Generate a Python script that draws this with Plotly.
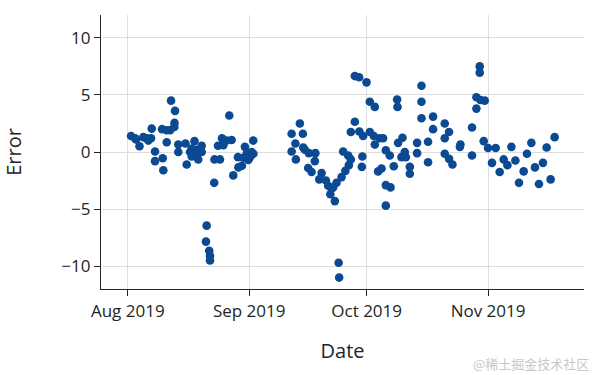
import pandas as pd
import plotly.graph_objects as go

start_date = "2019-08-01"

# day offset from start_date (fractional days) and error values
day_offset = [
    0.84, 1.86, 2.12, 3.0, 3.98, 4.85, 5.26, 6.12, 5.94, 6.96, 6.96, 8.93, 9.08, 8.75,
    9.95, 9.95, 10.8, 11.05, 12.07, 11.94, 11.89, 12.9, 12.9, 14.74, 15.05, 15.9, 16.33,
    17.04, 17.6, 18.0, 18.88, 18.88, 20.15, 19.97, 20.8, 21.0, 21.0, 22.07, 22.14, 23.55,
    23.04, 24.06, 24.39, 25.26, 25.92, 26.53, 26.94, 28.14, 28.26, 29.16, 29.49, 29.92,
    30.43, 30.77, 31.2, 31.63, 32.04, 32.09, 16.33, 17.7,
    41.84, 43.95, 44.72, 42.81, 41.84, 42.93, 44.8, 45.23, 46.25, 47.9, 47.77, 46.07,
    46.94, 49.5, 48.9, 50.6, 51.17, 52.04, 51.73, 52.45, 52.88, 53.32, 54.59, 55.56,
    56.45, 56.96, 56.28, 55.0, 53.85, 53.98, 57.98, 56.96, 59.13, 60.1, 59.9, 59.77,
    57.98, 59.08, 60.97, 61.81, 63.09, 61.81, 62.83, 63.09, 64.36, 65.2, 63.93, 64.8,
    65.89, 66.91, 65.89, 67.09, 65.89, 67.93, 68.78, 68.88, 69.03, 70.15, 69.9, 70.74,
    71.0, 72.02, 72.02, 73.88, 73.88, 75.0, 75.0, 75.0, 76.68, 76.68, 77.96, 77.96,
    80.94, 82.04, 80.94, 80.94, 82.04, 82.91, 84.95, 84.8, 87.9, 87.9, 89.87, 89.87,
    89.03, 90.05, 91.15, 89.03, 90.89, 91.99, 93.95, 93.01, 94.97, 95.99, 96.94, 97.96,
    98.98, 99.9, 101.1, 101.94, 103.06, 103.98, 105.0, 106.02, 106.96, 107.98, 109.0,
]

error = [
    1.4, 1.2, 1.1, 0.5, 1.3, 1.2, 1.0, 2.05, 1.2, 0.05, -0.8, -0.55, -1.6, 2.0,
    0.85, 1.9, 1.9, 4.5, 3.6, 2.55, 2.2, 0.65, 0.0, 0.75, -1.1, 0.0, -0.4,
    0.95, -0.35, -0.65, 0.55, 0.0, -6.45, -7.85, -8.65, -9.1, -9.5, -2.7, -0.65, -0.65,
    0.55, 1.2, 0.6, 1.0, 3.2, 1.05, -2.05, -0.45, -1.35, -1.2, -0.5, 0.45,
    -0.1, -0.7, -0.45, 0.0, 1.0, -0.15, 0.3, 0.2,
    1.6, 2.5, 1.6, 0.75, 0.05, -0.65, 0.4, 0.2, -0.1, -0.1, -0.8, -1.4,
    -1.75, -1.85, -2.4, -2.5, -2.95, -3.2, -3.7, -3.1, -4.3, -2.7, -2.2, -1.65,
    -1.15, -0.65, -0.3, 0.05, -9.7, -11.0, 2.65, 1.75, 1.8, 1.4, -0.4, -1.3,
    6.65, 6.55, 6.1, 4.4, 3.95, 1.75, 1.4, 0.65, 1.2, 1.2, -1.7, -1.45,
    0.15, -0.3, -2.9, -3.1, -4.7, -1.25, 4.6, 3.95, 0.8, 1.25, -0.45, 0.0,
    -0.45, -1.3, -1.9, 0.8, -0.1, 5.8, 4.4, 2.95, 0.9, -0.9, 3.1, 2.0,
    2.5, 1.75, 1.2, -0.15, -0.6, -1.1, 0.65, 0.45, 2.15, -0.3, 7.5, 6.95,
    4.8, 4.55, 4.5, 3.8, 0.95, 0.35, 0.35, -0.95, -1.75, -0.65, -1.15, 0.45,
    -0.75, -2.7, -1.7, -0.15, 0.8, -1.35, -2.8, -0.95, 0.4, -2.4, 1.3,
]

y_ticks = [-10, -5, 0, 5, 10]
x_tick_dates = ["2019-08-01", "2019-09-01", "2019-10-01", "2019-11-01"]
x_tick_text = ["Aug 2019", "Sep 2019", "Oct 2019", "Nov 2019"]

dates = pd.Timestamp(start_date) + pd.to_timedelta(day_offset, unit="D")

axis_color = "rgb(36,36,36)"
grid_color = "rgb(222,222,222)"
font_family = "Open Sans"

fig = go.Figure()
fig.add_trace(go.Scatter(
    x=dates, y=error, mode="markers",
    marker=dict(color="#0b4992", size=8.6, line=dict(width=0)),
    showlegend=False,
))

fig.update_layout(
    width=600, height=375,
    margin=dict(l=101, r=16, t=15, b=86),
    paper_bgcolor="white", plot_bgcolor="white",
    font=dict(family=font_family, size=17, color=axis_color),
)
fig.update_xaxes(
    range=["2019-07-25 04:00", "2019-11-25 12:00"],
    tickvals=x_tick_dates, ticktext=x_tick_text,
    showgrid=True, gridcolor=grid_color, gridwidth=1,
    showline=True, linecolor=axis_color, linewidth=1.3,
    ticks="outside", ticklen=6, tickcolor=axis_color,
    tickfont=dict(size=17),
    title=dict(text="Date", font=dict(size=20), standoff=23),
    zeroline=False,
)
fig.update_yaxes(
    range=[-12, 12], tickvals=y_ticks,
    showgrid=True, gridcolor=grid_color, gridwidth=1,
    showline=True, linecolor=axis_color, linewidth=1.3,
    ticks="outside", ticklen=6, tickcolor=axis_color,
    tickfont=dict(size=17),
    title=dict(text="Error", font=dict(size=20), standoff=34),
    zeroline=False,
)

fig.add_annotation(
    text="@稀土掘金技术社区", xref="paper", yref="paper",
    x=1.015, y=-0.272, xanchor="right", yanchor="middle", showarrow=False,
    font=dict(family="Noto Sans CJK SC", size=13, color="rgb(200,200,200)"),
)

fig.write_html("out.html")
